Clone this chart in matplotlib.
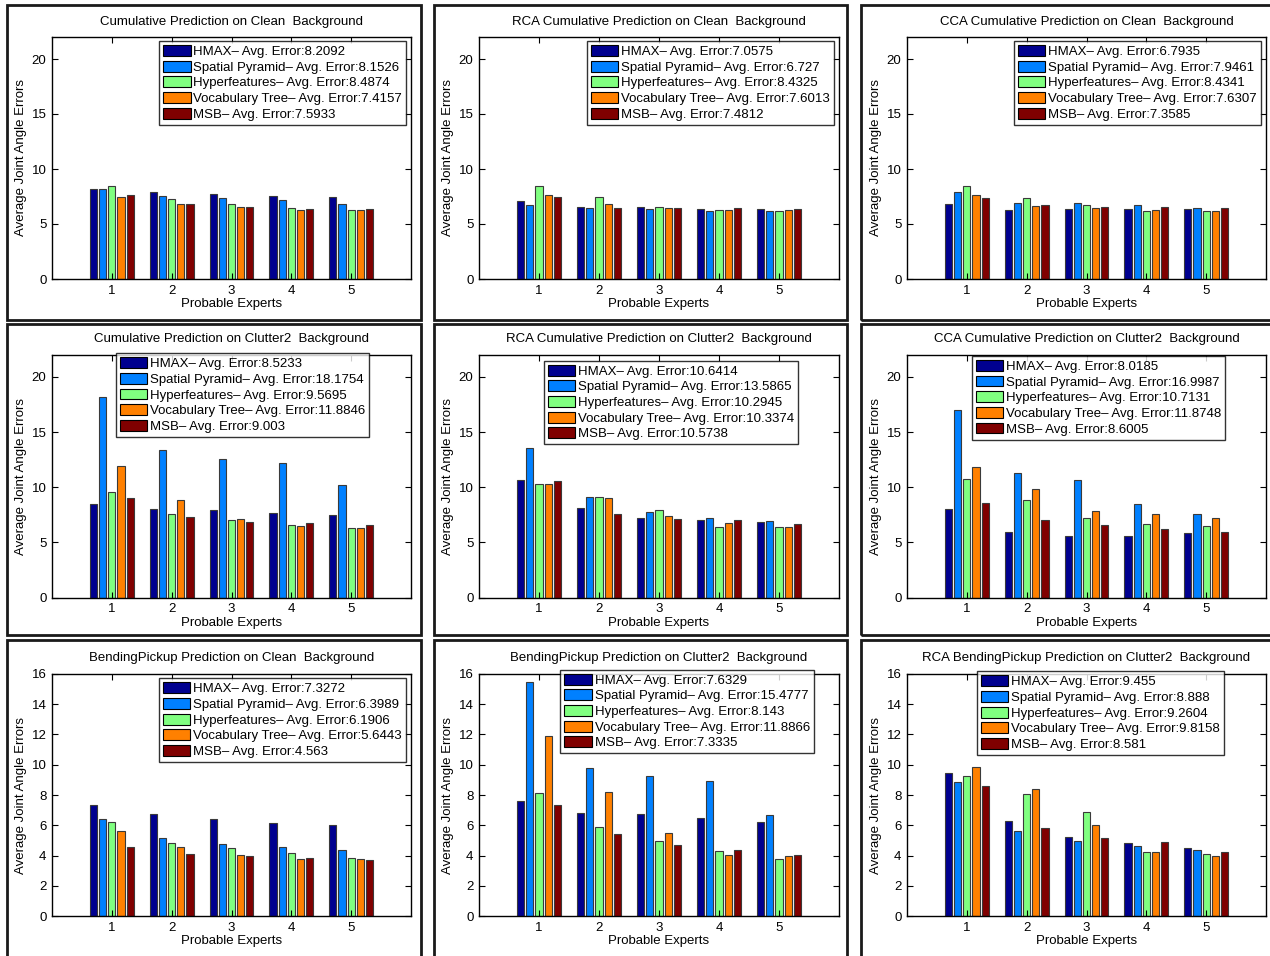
import numpy as np
import matplotlib.pyplot as plt
from matplotlib.patches import Rectangle

plt.rcParams['font.family'] = ['Liberation Sans', 'DejaVu Sans']

methods = ['HMAX', 'Spatial Pyramid', 'Hyperfeatures', 'Vocabulary Tree', 'MSB']
colors = ['#00008F', '#0080FF', '#80FF80', '#FF8000', '#800000']
experts = [1, 2, 3, 4, 5]

titles = [
    'Cumulative Prediction on Clean  Background',
    'RCA Cumulative Prediction on Clean  Background',
    'CCA Cumulative Prediction on Clean  Background',
    'Cumulative Prediction on Clutter2  Background',
    'RCA Cumulative Prediction on Clutter2  Background',
    'CCA Cumulative Prediction on Clutter2  Background',
    'BendingPickup Prediction on Clean  Background',
    'BendingPickup Prediction on Clutter2  Background',
    'RCA BendingPickup Prediction on Clutter2  Background',
]

# average errors shown in the legends (value at expert 1)
avg_errors = [
    [8.2092, 8.1526, 8.4874, 7.4157, 7.5933],
    [7.0575, 6.727, 8.4325, 7.6013, 7.4812],
    [6.7935, 7.9461, 8.4341, 7.6307, 7.3585],
    [8.5233, 18.1754, 9.5695, 11.8846, 9.003],
    [10.6414, 13.5865, 10.2945, 10.3374, 10.5738],
    [8.0185, 16.9987, 10.7131, 11.8748, 8.6005],
    [7.3272, 6.3989, 6.1906, 5.6443, 4.563],
    [7.6329, 15.4777, 8.143, 11.8866, 7.3335],
    [9.455, 8.888, 9.2604, 9.8158, 8.581],
]

# errors for experts 2..5, one row per method
rest = [
    [[7.87, 7.69, 7.51, 7.45], [7.54, 7.39, 7.18, 6.79], [7.27, 6.79, 6.49, 6.27],
     [6.85, 6.55, 6.30, 6.27], [6.79, 6.52, 6.40, 6.36]],
    [[6.52, 6.52, 6.40, 6.40], [6.46, 6.33, 6.18, 6.18], [7.45, 6.58, 6.27, 6.18],
     [6.85, 6.49, 6.30, 6.30], [6.46, 6.46, 6.46, 6.36]],
    [[6.27, 6.33, 6.33, 6.36], [6.90, 6.88, 6.73, 6.43], [7.36, 6.73, 6.21, 6.21],
     [6.61, 6.43, 6.30, 6.21], [6.70, 6.58, 6.52, 6.43]],
    [[7.99, 7.93, 7.66, 7.45], [13.36, 12.55, 12.16, 10.20], [7.54, 7.00, 6.61, 6.33],
     [8.87, 7.09, 6.46, 6.27], [7.27, 6.85, 6.79, 6.58]],
    [[8.14, 7.24, 7.06, 6.82], [9.08, 7.72, 7.18, 6.91], [9.14, 7.93, 6.43, 6.36],
     [8.99, 7.36, 6.79, 6.43], [7.60, 7.15, 7.00, 6.70]],
    [[5.94, 5.58, 5.58, 5.88], [11.25, 10.65, 8.48, 7.57], [8.87, 7.24, 6.70, 6.46],
     [9.86, 7.81, 7.60, 7.21], [7.03, 6.58, 6.21, 5.94]],
    [[6.73, 6.42, 6.15, 6.04], [5.16, 4.75, 4.59, 4.35], [4.84, 4.51, 4.15, 3.85],
     [4.55, 4.04, 3.80, 3.76], [4.09, 3.98, 3.85, 3.74]],
    [[6.84, 6.77, 6.46, 6.22], [9.76, 9.23, 8.92, 6.70], [5.89, 4.99, 4.33, 3.76],
     [8.22, 5.49, 4.04, 3.96], [5.41, 4.70, 4.35, 4.07]],
    [[6.29, 5.21, 4.86, 4.51], [5.60, 4.95, 4.62, 4.35], [8.04, 6.86, 4.26, 4.11],
     [8.37, 6.04, 4.26, 3.98], [5.82, 5.14, 4.90, 4.26]],
]

# legend upper-left corner in axes fraction
legend_anchor = [
    (0.298, 0.983), (0.299, 0.983), (0.297, 0.983),
    (0.177, 1.006), (0.180, 0.975), (0.180, 0.995),
    (0.297, 0.981), (0.226, 1.016), (0.194, 1.010),
]

W, H = 1270, 956
fig = plt.figure(figsize=(W / 100, H / 100), dpi=100)

col_axes = [(52, 411), (479, 839), (907, 1266)]
row_axes = [(37, 279), (354.7, 597.7), (673.7, 916.3)]
col_box = [(6.5, 420.5), (433.5, 847.3), (861, 1276)]
row_box = [(5, 320), (324, 635), (640, 962)]

# panel frames
for (x0, x1) in col_box:
    for (y0, y1) in row_box:
        fig.patches.append(Rectangle((x0 / W, 1 - y1 / H), (x1 - x0) / W, (y1 - y0) / H,
                                     transform=fig.transFigure, fill=False,
                                     edgecolor='#1a1a1a', linewidth=2.0, zorder=0))

x = np.array(experts, dtype=float)
offsets = (np.arange(5) - 2) * 0.153
width = 0.12

for k in range(9):
    r, c = divmod(k, 3)
    (l, rr), (t, b) = col_axes[c], row_axes[r]
    ax = fig.add_axes([l / W, 1 - b / H, (rr - l) / W, (b - t) / H])
    for m in range(5):
        vals = [avg_errors[k][m]] + rest[k][m]
        ax.bar(x + offsets[m], vals, width, color=colors[m], edgecolor='#3a3a3a',
               linewidth=0.8, label=f'{methods[m]}\u2013 Avg. Error:{avg_errors[k][m]:g}')
    ax.set_xlim(0, 6)
    ax.set_xticks(experts)
    if r < 2:
        ax.set_ylim(0, 22)
        ax.set_yticks([0, 5, 10, 15, 20])
    else:
        ax.set_ylim(0, 16)
        ax.set_yticks(np.arange(0, 17, 2))
    ax.tick_params(direction='in', top=True, right=True, length=4, width=0.8,
                   labelsize=9.5, pad=4)
    for sp in ax.spines.values():
        sp.set_linewidth(1.0)
    ax.set_title(titles[k], fontsize=9.5, pad=9)
    ax.set_xlabel('Probable Experts', fontsize=9.5, labelpad=1)
    ax.set_ylabel('Average Joint Angle Errors', fontsize=9.5, labelpad=3)
    leg = ax.legend(loc='upper left', bbox_to_anchor=legend_anchor[k], fontsize=9.5,
                    frameon=True, fancybox=False, borderpad=0.3, labelspacing=0.2,
                    handlelength=2.1, handleheight=0.9, handletextpad=0.2,
                    borderaxespad=0)
    leg.get_frame().set_edgecolor('black')
    leg.get_frame().set_linewidth(1.0)
    for h in leg.legend_handles:
        h.set_edgecolor('black')

fig.savefig('out.png', dpi=100)
